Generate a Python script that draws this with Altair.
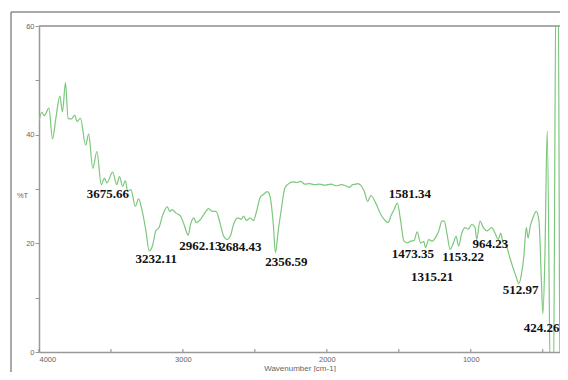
import altair as alt
import pandas as pd

# Spectrum trace (wavenumber cm-1, %T)
wavenumber = [4000, 3981, 3963, 3931, 3906, 3883, 3855, 3837, 3816, 3798, 3774, 3752, 3736, 3712,
              3676, 3655, 3626, 3598, 3567, 3545, 3529, 3488, 3460, 3441, 3419, 3400, 3384, 3361,
              3331, 3308, 3285, 3257, 3234, 3212, 3188, 3166, 3143, 3108, 3092, 3074, 3050, 3016,
              2993, 2963, 2947, 2924, 2908, 2878, 2855, 2821, 2798, 2770, 2740, 2717, 2694, 2671,
              2648, 2619, 2595, 2579, 2557, 2533, 2510, 2488, 2464, 2441, 2412, 2393, 2372, 2357,
              2338, 2315, 2292, 2269, 2234, 2210, 2181, 2154, 2120, 2085, 2050, 2016, 1970, 1935,
              1901, 1870, 1843, 1821, 1798, 1786, 1740, 1717, 1694, 1660, 1625, 1602, 1574, 1556,
              1533, 1510, 1487, 1464, 1441, 1418, 1395, 1372, 1349, 1326, 1315, 1292, 1269, 1246,
              1222, 1200, 1184, 1166, 1143, 1120, 1102, 1085, 1062, 1040, 1017, 993, 970, 959,
              936, 913, 885, 855, 832, 809, 793, 775, 752, 729, 706, 683, 667, 648, 632, 614,
              602, 586, 568, 545, 526, 510, 499, 485, 469, 444, 427, 407, 393, 379, 372, 362, 352]
transmittance = [42.5, 44.1, 43.5, 44.9, 39.2, 43.0, 47.1, 44.2, 49.6, 43.0, 42.9, 43.6, 42.4, 43.0,
                 38.1, 40.1, 33.8, 36.9, 30.8, 32.0, 31.1, 33.1, 30.8, 32.3, 30.5, 31.5, 29.6, 29.9,
                 26.8, 28.2, 26.2, 22.3, 18.6, 19.5, 22.3, 22.9, 25.0, 26.7, 25.9, 26.2, 25.6, 25.0,
                 23.5, 21.5, 23.5, 24.7, 23.8, 24.4, 25.3, 26.4, 25.9, 25.9, 23.5, 21.3, 20.7, 21.3,
                 23.5, 24.7, 24.4, 25.0, 24.2, 24.7, 24.2, 25.9, 28.4, 29.0, 29.5, 28.4, 23.5, 18.3,
                 22.3, 26.5, 30.2, 30.9, 31.3, 31.2, 31.4, 30.9, 31.0, 30.8, 30.9, 30.7, 30.9, 30.6,
                 30.8, 30.6, 30.3, 30.8, 30.9, 31.0, 29.6, 27.7, 28.8, 27.4, 25.3, 24.4, 23.8, 25.0,
                 26.2, 27.4, 24.1, 20.4, 20.1, 20.4, 20.5, 22.1, 20.1, 20.3, 19.2, 20.7, 20.4, 21.0,
                 22.3, 24.1, 24.1, 21.9, 18.9, 20.1, 21.3, 19.5, 21.9, 22.9, 22.6, 23.5, 22.9, 20.7,
                 24.1, 22.9, 22.3, 22.9, 21.9, 20.7, 21.9, 20.1, 19.5, 17.4, 15.5, 13.7, 12.6, 14.3,
                 17.4, 22.9, 21.0, 23.2, 24.7, 25.9, 24.1, 13.7, 7.0, 17.4, 40.7, -10, -10, 70, 70,
                 -10, -10, 70, 70]

# Peak annotations (text, anchor wavenumber, anchor %T)
peak_labels = ["3675.66", "3232.11", "2962.13", "2684.43", "2356.59", "1581.34", "1473.35",
               "1153.22", "1315.21", "964.23", "512.97", "424.26"]
label_wn = [3521, 3186, 2878, 2600, 2281, 1423, 1403, 1053, 1269, 864, 654, 507]
label_t = [29.0, 17.1, 19.5, 19.3, 16.5, 29.0, 18.1, 17.4, 13.8, 19.8, 11.4, 4.4]

x_tick_values = [4000, 3500, 3000, 2500, 2000, 1500, 1000, 500]
y_tick_values = [0, 10, 20, 30, 40, 50, 60]

W, H = 521, 326

spec = pd.DataFrame({"wn": wavenumber, "t": transmittance})
labels = pd.DataFrame({"label": peak_labels, "wn": label_wn, "t": label_t})
ticks = pd.DataFrame({"wn": x_tick_values})
one = pd.DataFrame({"a": [0]})

xscale = alt.Scale(domain=[4000, 380], nice=False, zero=False)
yscale = alt.Scale(domain=[0, 60], nice=False, zero=False)

line = alt.Chart(spec).mark_line(color="#7cc77c", strokeWidth=1.2, clip=True,
                                 interpolate="monotone").encode(
    x=alt.X("wn:Q", scale=xscale,
            axis=alt.Axis(title="Wavenumber [cm-1]", values=x_tick_values,
                          labelExpr="datum.value % 1000 == 0 ? datum.label : ''",
                          format="d", ticks=False, grid=False,
                          domainColor="#999", domainWidth=1.5,
                          labelColor="#666", labelFont="Liberation Sans", labelFontSize=7.5,
                          labelPadding=3, titleColor="#666", titleFont="Liberation Sans",
                          titleFontSize=8, titleFontWeight="normal", titleY=16,
                          titleBaseline="middle")),
    y=alt.Y("t:Q", scale=yscale,
            axis=alt.Axis(title="%T", values=y_tick_values,
                          labelExpr="datum.value % 20 == 0 ? datum.label : ''",
                          grid=False, tickSize=4, tickColor="#999",
                          domainColor="#999", domainWidth=1.5,
                          labelColor="#666", labelFont="Liberation Sans", labelFontSize=7.5,
                          labelPadding=1, titleColor="#666", titleFont="Liberation Sans",
                          titleFontSize=7.5, titleFontWeight="normal", titleAngle=0,
                          titleX=-17, titleY=169, titleAlign="center",
                          titleBaseline="middle")),
)

text = alt.Chart(labels).mark_text(font="Liberation Serif", fontWeight="bold", fontSize=13,
                                   color="#111", align="center", baseline="middle").encode(
    x=alt.X("wn:Q", scale=xscale),
    y=alt.Y("t:Q", scale=yscale),
    text="label:N",
)

xticks = alt.Chart(ticks).mark_rule(color="#888", strokeWidth=1).encode(
    x=alt.X("wn:Q", scale=xscale),
    y=alt.value(H),
    y2=alt.value(H - 3),
)

top_border = alt.Chart(one).mark_rule(color="#aaa", strokeWidth=2).encode(
    x=alt.value(0), x2=alt.value(W), y=alt.value(0))
frame_top = alt.Chart(one).mark_rule(color="#555", strokeWidth=1).encode(
    x=alt.value(-28), x2=alt.value(W), y=alt.value(-14))
frame_left = alt.Chart(one).mark_rule(color="#555", strokeWidth=1).encode(
    x=alt.value(-28), y=alt.value(-14), y2=alt.value(H + 20))

chart = alt.layer(frame_top, frame_left, top_border, xticks, line, text).properties(
    width=W, height=H,
    autosize=alt.AutoSizeParams(type="none"),
    padding={"left": 31, "top": 18, "right": 0, "bottom": 20},
).configure_view(stroke=None)

chart.save("out.html", embed_options={"renderer": "svg", "actions": False})
